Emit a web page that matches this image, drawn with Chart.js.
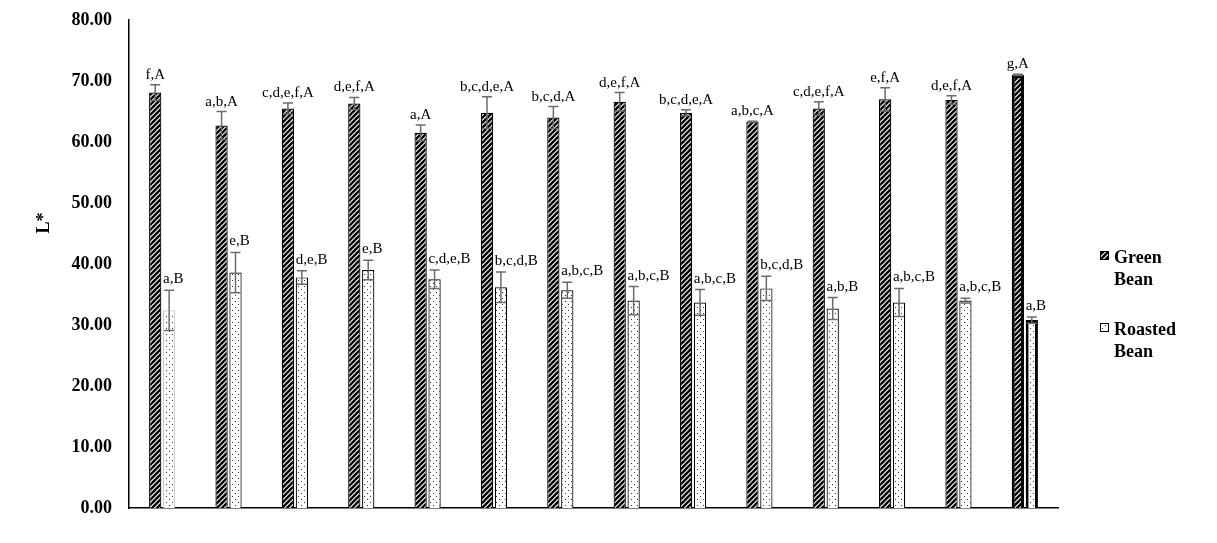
<!DOCTYPE html>
<html>
<head>
<meta charset="utf-8">
<script src="https://cdn.jsdelivr.net/npm/chart.js@4.4.1/dist/chart.umd.min.js"></script>
<style>
    html, body { margin: 0; padding: 0; background: #fff; }
</style>
</head>
<body>
<canvas id="myChart" width="1217" height="543"></canvas>
<script>
// samples (no names printed on the x axis)
const categories = ["1", "2", "3", "4", "5", "6", "7", "8", "9", "10", "11", "12", "13", "14"];

const greenBean = [68.1, 62.7, 65.5, 66.3, 61.5, 64.8, 64.0, 66.6, 64.8, 63.3, 65.5, 67.0, 66.9, 71.0];
const greenSd = [1.3, 2.3, 0.9, 1.0, 1.3, 2.6, 1.8, 1.5, 0.5, 0.1, 1.1, 1.9, 0.7, 0.1];
const greenLetters = ["f,A", "a,b,A", "c,d,e,f,A", "d,e,f,A", "a,A", "b,c,d,e,A", "b,c,d,A",
    "d,e,f,A", "b,c,d,e,A", "a,b,c,A", "c,d,e,f,A", "e,f,A", "d,e,f,A", "g,A"];

const roastedBean = [32.4, 38.6, 37.8, 39.0, 37.5, 36.2, 35.7, 34.0, 33.7, 36.0, 32.7, 33.7, 34.0, 30.8];
const roastedSd = [3.3, 3.3, 1.1, 1.6, 1.5, 2.5, 1.3, 2.3, 2.1, 2.0, 1.8, 2.3, 0.4, 0.5];
const roastedLetters = ["a,B", "e,B", "d,e,B", "e,B", "c,d,e,B", "b,c,d,B", "a,b,c,B",
    "a,b,c,B", "a,b,c,B", "b,c,d,B", "a,b,B", "a,b,c,B", "a,b,c,B", "a,B"];

const yTicks = [0, 10, 20, 30, 40, 50, 60, 70, 80];

const SERIF = "'Liberation Serif', 'Times New Roman', serif";

// fill patterns
function hatch() {
    const c = document.createElement("canvas");
    c.width = 5; c.height = 5;
    const g = c.getContext("2d");
    g.fillStyle = "#fff";
    g.fillRect(0, 0, 5, 5);
    g.strokeStyle = "#000";
    g.lineWidth = 2.4;
    g.beginPath();
    g.moveTo(-1, 6); g.lineTo(6, -1);
    g.moveTo(-6, 6); g.lineTo(1, -1);
    g.moveTo(4, 6); g.lineTo(11, -1);
    g.stroke();
    return g.createPattern(c, "repeat");
}

function dots() {
    const c = document.createElement("canvas");
    c.width = 6; c.height = 6;
    const g = c.getContext("2d");
    g.fillStyle = "#fff";
    g.fillRect(0, 0, 6, 6);
    g.fillStyle = "#333";
    g.fillRect(1, 1, 1, 1);
    g.fillRect(4, 4, 1, 1);
    return g.createPattern(c, "repeat");
}

const hatchFill = hatch();
const dotFill = dots();

// error bars, letters, legend and y title
const extras = {
    id: "extras",
    afterDatasetsDraw(chart) {
        const ctx = chart.ctx;
        const y = chart.scales.y;
        const sets = [
            [greenBean, greenSd, greenLetters],
            [roastedBean, roastedSd, roastedLetters]
        ];
        sets.forEach((s, d) => {
            const meta = chart.getDatasetMeta(d);
            meta.data.forEach((bar, i) => {
                const top = y.getPixelForValue(s[0][i] + s[1][i]);
                const bot = y.getPixelForValue(s[0][i] - s[1][i]);
                ctx.save();
                ctx.strokeStyle = "#6b6b6b";
                ctx.lineWidth = 1.5;
                ctx.beginPath();
                ctx.moveTo(bar.x, top); ctx.lineTo(bar.x, bot);
                ctx.moveTo(bar.x - 5, top); ctx.lineTo(bar.x + 5, top);
                ctx.moveTo(bar.x - 5, bot); ctx.lineTo(bar.x + 5, bot);
                ctx.stroke();

                ctx.fillStyle = "#000";
                ctx.font = "15px " + SERIF;
                ctx.textBaseline = "alphabetic";
                if (d === 0) {
                    ctx.textAlign = "center";
                    ctx.fillText(s[2][i], bar.x, top - 6);
                } else {
                    ctx.textAlign = "left";
                    ctx.fillText(s[2][i], bar.x - bar.width / 2, top - 7);
                }
                ctx.restore();
            });
        });
    },
    afterDraw(chart) {
        const ctx = chart.ctx;
        ctx.save();
        // y title
        ctx.translate(44, 223);
        ctx.rotate(-Math.PI / 2);
        ctx.fillStyle = "#000";
        ctx.font = "bold 18px " + SERIF;
        ctx.textAlign = "center";
        ctx.textBaseline = "middle";
        ctx.fillText("L*", 0, 0);
        ctx.restore();

        // legend
        const items = [
            [hatchFill, ["Green", "Bean"], 251],
            [dotFill, ["Roasted", "Bean"], 323]
        ];
        ctx.save();
        items.forEach(it => {
            ctx.fillStyle = it[0];
            ctx.fillRect(1100, it[2], 8, 8);
            ctx.strokeStyle = "#000";
            ctx.lineWidth = 1;
            ctx.strokeRect(1100.5, it[2] + 0.5, 8, 8);
            ctx.fillStyle = "#000";
            ctx.font = "bold 18px " + SERIF;
            ctx.textAlign = "left";
            ctx.textBaseline = "alphabetic";
            ctx.fillText(it[1][0], 1114, it[2] + 12);
            ctx.fillText(it[1][1], 1114, it[2] + 34);
        });
        ctx.restore();
    }
};

const last = categories.length - 1;

const ctx = document.getElementById("myChart").getContext("2d");

const myChart = new Chart(ctx, {
    type: "bar",
    data: {
        labels: categories,
        datasets: [{
            label: "Green Bean",
            data: greenBean,
            backgroundColor: hatchFill,
            borderColor: "#000",
            borderWidth: (c) => c.dataIndex === last ? 3 : 1.2,
            categoryPercentage: 0.42,
            barPercentage: 0.88
        }, {
            label: "Roasted Bean",
            data: roastedBean,
            backgroundColor: dotFill,
            borderColor: (c) => c.dataIndex === 0 ? "#c8c8c8" : "#000",
            borderWidth: (c) => c.dataIndex === last ? 3 : 1.2,
            categoryPercentage: 0.42,
            barPercentage: 0.88
        }]
    },
    options: {
        responsive: false,
        animation: false,
        layout: {
            padding: { top: 20, right: 159, bottom: 0, left: 0 }
        },
        plugins: {
            legend: { display: false },
            tooltip: { enabled: false }
        },
        scales: {
            x: {
                grid: { display: false },
                border: { color: "#000", width: 1.5 },
                ticks: { display: false },
                afterFit: (s) => { s.height = 35; }
            },
            y: {
                min: 0,
                max: 80,
                afterBuildTicks: (s) => { s.ticks = yTicks.map(v => ({ value: v })); },
                grid: { display: false, drawTicks: false },
                border: { color: "#000", width: 1.5 },
                ticks: {
                    color: "#000",
                    padding: 17,
                    font: { family: SERIF, size: 18, weight: "bold" },
                    callback: (v) => Number(v).toFixed(2)
                },
                afterFit: (s) => {
                    s.width = 129;
                    s.paddingTop = 0;
                    s.paddingBottom = 0;
                }
            }
        }
    },
    plugins: [extras]
});
</script>
</body>
</html>
